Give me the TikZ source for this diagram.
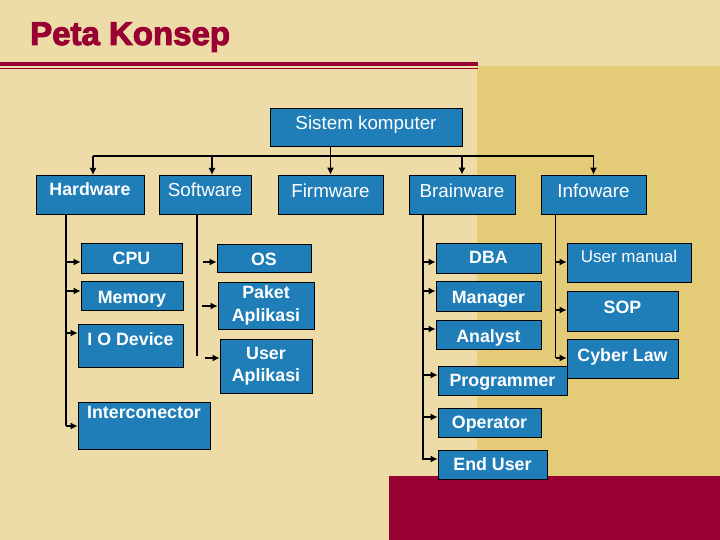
\documentclass[tikz,border=0pt]{standalone}
\usepackage{fontspec}
\setmainfont{Liberation Sans}
\newfontfamily\titlefont{Liberation Sans}[BoldFeatures={FakeBold=3}]
\usetikzlibrary{arrows.meta}
\definecolor{bglight}{HTML}{EDDCA7}
\definecolor{bgdark}{HTML}{E3CB78}
\definecolor{maroon}{HTML}{990033}
\definecolor{nodeblue}{HTML}{1F7DB8}
\tikzset{
  box/.style={draw=black, line width=0.8pt, fill=nodeblue, text=white, inner sep=0pt, anchor=center},
  bf/.style={font=\bfseries\fontsize{17.8}{22.3}\selectfont, text height=12.7pt, text depth=0pt},
  bfm/.style={font=\bfseries\fontsize{17.8}{22.3}\selectfont, align=center},
  rg/.style={font=\fontsize{18.8}{22}\selectfont, text height=13.4pt, text depth=0pt},
  rgs/.style={font=\fontsize{17}{20}\selectfont, text height=12.2pt, text depth=0pt},
  conn/.style={draw=black, line width=1.2pt},
  arr/.style={conn, -{Latex[length=7pt,width=7pt]}}
}
\begin{document}
\begin{tikzpicture}[x=1pt,y=-1pt]
% background
\fill[bglight] (0,0) rectangle (720,540);
\useasboundingbox (0,0) rectangle (720,540);
\fill[bgdark] (477,66) rectangle (720,476);
\fill[maroon] (389,476) rectangle (720,540);
\fill[maroon] (0,62) rectangle (478,66);
\fill[maroon] (0,67.7) rectangle (478,69.3);
% title
\node[anchor=base west, inner sep=0pt, text=maroon, font=\titlefont\bfseries\fontsize{33}{33}\selectfont] (title) at (30,45) {Peta Konsep};

% top
\node[box, rg, text depth=8.4pt, minimum width=192pt, minimum height=38pt] (sistem) at (366,127) {Sistem komputer};
\node[box, bf, text depth=10.6pt, minimum width=108pt, minimum height=39pt] (hardware) at (90,194.5) {Hardware};
\node[box, rg, text depth=9pt, minimum width=92pt, minimum height=39pt] (software) at (205,194.5) {Software};
\node[box, rg, text depth=7.4pt, minimum width=105pt, minimum height=39pt] (firmware) at (330.5,194.5) {Firmware};
\node[box, rg, text depth=8pt, minimum width=106pt, minimum height=39pt] (brainware) at (462,194.5) {Brainware};
\node[box, rg, text depth=8pt, minimum width=105pt, minimum height=39pt] (infoware) at (593.5,194.5) {Infoware};

% hardware column
\node[box, bf, minimum width=101pt, minimum height=30pt] (cpu) at (131.5,258) {CPU};
\node[box, bf, text height=15.7pt, minimum width=102pt, minimum height=29pt] (memory) at (132,295.5) {Memory};
\node[box, bf, text depth=13pt, minimum width=105pt, minimum height=43pt] (iodev) at (130.5,345.5) {I O Device};
\node[box, bf, text depth=27pt, minimum width=132pt, minimum height=47pt] (intercon) at (144,425.5) {Interconector};

% software column
\node[box, bf, text height=15.7pt, minimum width=94pt, minimum height=28pt] (os) at (264,258) {OS};
\node[box, bfm, minimum width=96pt, minimum height=47pt] (paket) at (266,305.5) {Paket\\Aplikasi};
\node[box, bfm, minimum width=92pt, minimum height=54pt] (userapl) at (266,366) {User\\Aplikasi};

% brainware column
\node[box, bf, text depth=1pt, minimum width=105pt, minimum height=30pt] (dba) at (488.5,258) {DBA};
\node[box, bf, text height=14.7pt, minimum width=105pt, minimum height=30pt] (manager) at (488.5,296) {Manager};
\node[box, bf, text height=15.3pt, minimum width=105pt, minimum height=29pt] (analyst) at (488.5,334.5) {Analyst};

% infoware column
\node[box, rgs, text depth=11.6pt, minimum width=124pt, minimum height=39pt] (usermanual) at (629,262.5) {User manual};
\node[box, bf, text depth=8pt, minimum width=111pt, minimum height=40pt] (sop) at (622.5,311) {SOP};
\node[box, bf, text depth=7pt, minimum width=111pt, minimum height=39pt] (cyberlaw) at (622.5,358.5) {Cyber Law};

\node[box, bf, text depth=1.6pt, minimum width=129pt, minimum height=29pt] (programmer) at (502.5,380.5) {Programmer};
\node[box, bf, minimum width=103pt, minimum height=29pt] (operator) at (489.5,422.5) {Operator};
\node[box, bf, minimum width=109pt, minimum height=29pt] (enduser) at (492.5,464.5) {End User};

% top connectors
\coordinate (bus) at (0,156);
\coordinate (hwtop) at (93,175);
\coordinate (swtop) at (212,175);
\draw[conn] (hwtop |- bus) -- (infoware.north |- bus);
\draw[arr] (firmware.north |- sistem.south) -- (firmware.north);
\draw[arr] (hwtop |- bus) -- (hwtop);
\draw[arr] (swtop |- bus) -- (swtop);
\draw[arr] (brainware.north |- bus) -- (brainware.north);
\draw[arr] (infoware.north |- bus) -- (infoware.north);

% hardware tree
\coordinate (hx) at (66,426);
\draw[conn] (hardware.south -| hx) -- (hx);
\coordinate (h1) at (66,262);
\coordinate (h2) at (66,291);
\coordinate (h3) at (66,333);
\draw[arr] (h1) -- (h1 -| cpu.west);
\draw[arr] (h2) -- (h2 -| memory.west);
\draw[arr] (h3) -- (h3 -| iodev.west);
\draw[arr] (hx) -- (hx -| intercon.west);

% software tree
\coordinate (sx) at (197,356);
\draw[conn] (software.south -| sx) -- (sx);
\coordinate (s1) at (203,262);
\coordinate (s2) at (202,306);
\coordinate (s3) at (205,358);
\draw[arr] (s1) -- (s1 -| os.west);
\draw[arr] (s2) -- (s2 -| paket.west);
\draw[arr] (s3) -- (s3 -| userapl.west);

% brainware tree
\coordinate (bx) at (423,460);
\draw[conn] (brainware.south -| bx) -- (bx);
\coordinate (b1) at (423,262);
\coordinate (b2) at (423,291);
\coordinate (b3) at (423,329);
\coordinate (b4) at (423,375);
\coordinate (b5) at (423,417);
\coordinate (b6) at (423,459);
\draw[arr] (b1) -- (b1 -| dba.west);
\draw[arr] (b2) -- (b2 -| manager.west);
\draw[arr] (b3) -- (b3 -| analyst.west);
\draw[arr] (b4) -- (b4 -| programmer.west);
\draw[arr] (b5) -- (b5 -| operator.west);
\draw[arr] (b6) -- (b6 -| enduser.west);

% infoware tree
\coordinate (ix) at (555.5,358);
\draw[conn] (infoware.south -| ix) -- (ix);
\coordinate (i1) at (555.5,262);
\coordinate (i2) at (555.5,310);
\draw[arr] (i1) -- (i1 -| usermanual.west);
\draw[arr] (i2) -- (i2 -| sop.west);
\draw[arr] (ix) -- (ix -| cyberlaw.west);
\end{tikzpicture}
\end{document}
